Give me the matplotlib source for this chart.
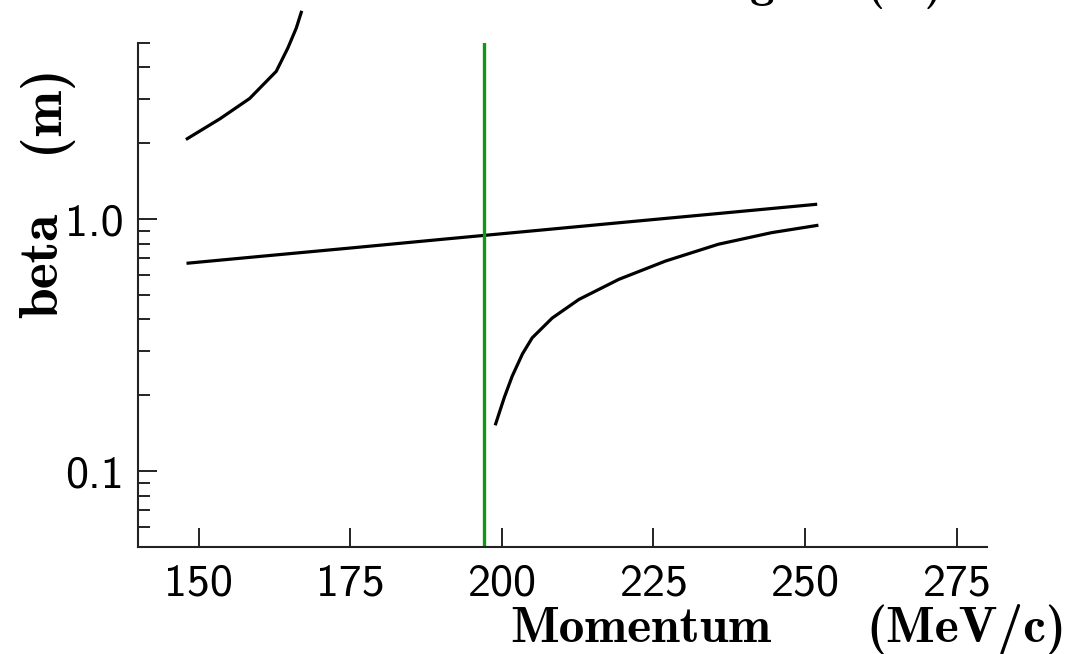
import numpy as np
import matplotlib
matplotlib.use("Agg")
import matplotlib.pyplot as plt
from matplotlib.ticker import LogLocator, NullFormatter, FixedLocator

# Momentum (MeV/c) and beta (m) for the three optics branches
p_low = [147.9, 153.5, 158.4, 162.8, 164.7, 166.1, 167.0]
beta_low = [2.07, 2.50, 3.01, 3.86, 4.77, 5.73, 6.71]

p_flat = [148, 160, 175, 190, 205, 220, 235, 252]
beta_flat = [0.668, 0.711, 0.768, 0.831, 0.898, 0.971, 1.049, 1.146]

p_high = [198.9, 200.4, 201.7, 203.4, 205.0, 208.3, 212.7, 219.3, 227.0, 235.7, 244.5, 252.2]
beta_high = [0.152, 0.196, 0.238, 0.292, 0.338, 0.405, 0.480, 0.577, 0.682, 0.795, 0.884, 0.946]

p_marker = 197.0

x_ticks = [150, 175, 200, 225, 250, 275]
x_ticklabels = ["150", "175", "200", "225", "250", "275"]
y_ticks = [0.1, 1.0]
y_ticklabels = ["0.1", "1.0"]

W, H = 1072, 654
fig = plt.figure(figsize=(W / 100, H / 100), dpi=100)
fig.patch.set_facecolor("white")


def fx(px):
    return px / W


def fy(py):
    return 1 - py / H


ax = fig.add_axes([fx(138), fy(547), fx(987) - fx(138), fy(43) - fy(547)])
ax.set_yscale("log")
ax.set_xlim(140, 280)
ax.set_ylim(0.05, 5.0)

ink = "#222222"
for side in ("top", "right"):
    ax.spines[side].set_visible(False)
for side in ("left", "bottom"):
    ax.spines[side].set_linewidth(1.5)
    ax.spines[side].set_color(ink)

ax.plot(p_low, beta_low, color="black", lw=2.3, clip_on=False, solid_capstyle="butt")
ax.plot(p_flat, beta_flat, color="black", lw=2.3, solid_capstyle="butt")
ax.plot(p_high, beta_high, color="black", lw=2.3, solid_capstyle="butt")
ax.axvline(p_marker, color="#109a10", lw=2.4)

ax.xaxis.set_major_locator(FixedLocator(x_ticks))
ax.set_xticklabels(x_ticklabels)
ax.yaxis.set_major_locator(FixedLocator(y_ticks))
ax.set_yticklabels(y_ticklabels)
ax.yaxis.set_minor_locator(LogLocator(base=10, subs=np.arange(2, 10)))
ax.yaxis.set_minor_formatter(NullFormatter())
ax.xaxis.set_minor_locator(FixedLocator([]))

ax.tick_params(which="major", direction="in", length=13.5, width=1.4, color=ink,
               labelsize=33, labelfontfamily="cmss10", labelcolor="black")
ax.tick_params(which="minor", direction="in", length=8.5, width=1.4, color=ink)
ax.tick_params(axis="x", which="major", pad=12)
ax.tick_params(axis="y", which="major", pad=10)

xlab = dict(family="cmb10", fontsize=37, color="black")
ylab = dict(family="cmb10", fontsize=40, color="black")
fig.text(fx(510), fy(642), "Momentum", ha="left", va="baseline", **xlab)
fig.text(fx(1066), fy(642), "(MeV/c)", ha="right", va="baseline", **xlab)
fig.text(fx(57), fy(318), "beta", rotation=90, rotation_mode="anchor",
         ha="left", va="baseline", **ylab)
fig.text(fx(57), fy(153), "(m)", rotation=90, rotation_mode="anchor",
         ha="left", va="baseline", **ylab)

# Title sits just above the top edge of the canvas
tlab = dict(family="cmb10", fontsize=35, color="black")
fig.text(fx(816), fy(-3), "Beta at Target", ha="right", va="baseline", **tlab)
fig.text(fx(866), fy(-3), "(m)", ha="left", va="baseline", **tlab)

fig.savefig("out.png", dpi=100)
